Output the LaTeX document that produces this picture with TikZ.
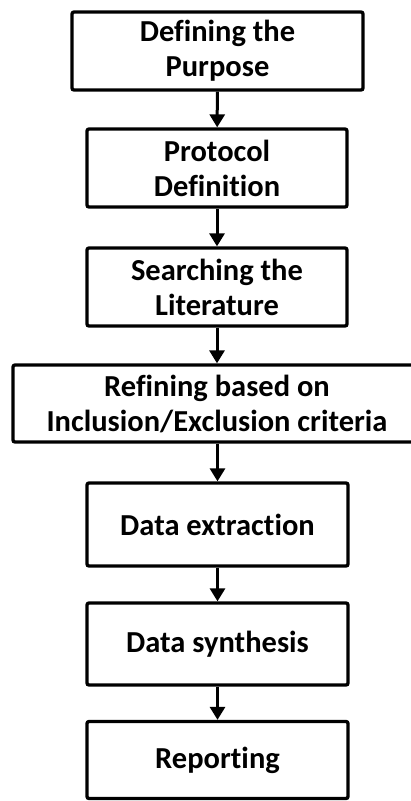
\documentclass[tikz,border=0pt]{standalone}
\usepackage{fontspec}
\setmainfont{Carlito}[Ligatures=NoCommon]
\usetikzlibrary{arrows.meta}
\begin{document}
\begin{tikzpicture}[x=1pt,y=-1pt,
  stepbox/.style={draw=black, line width=3.3pt, rounded corners=2pt, fill=white,
    inner sep=0pt, align=center, font=\fontsize{30.5}{35}\selectfont\bfseries},
  flow/.style={line width=3pt, -{Triangle[width=15pt,length=13pt]}}]
  \useasboundingbox[fill=white] (0,0) rectangle (411,801);
  % process steps, top to bottom
  \node[stepbox, minimum width=291pt, minimum height=78pt] (b1) at (217.5,51) {Defining the\\Purpose};
  \node[stepbox, minimum width=260pt, minimum height=78pt] (b2) at (217,168) {Protocol\\Definition};
  \node[stepbox, minimum width=260pt, minimum height=78pt] (b3) at (217,287) {Searching the\\Literature};
  \node[stepbox, minimum width=408pt, minimum height=77pt] (b4) at (217,403.5) {Refining based on\\Inclusion/Exclusion criteria};
  \node[stepbox, minimum width=261pt, minimum height=83pt] (b5) at (217.5,524.5) {Data extraction};
  \node[stepbox, minimum width=261pt, minimum height=82pt] (b6) at (217.5,644) {Data synthesis};
  \node[stepbox, minimum width=261pt, minimum height=77pt] (b7) at (217.5,760) {Reporting};
  % connectors
  \draw[flow] (b1) -- (b2);
  \draw[flow] (b2) -- (b3);
  \draw[flow] (b3) -- (b4);
  \draw[flow] (b4.south -| b5.north) -- (b5);
  \draw[flow] (b5) -- (b6);
  \draw[flow] (b6) -- (b7);
\end{tikzpicture}
\end{document}
